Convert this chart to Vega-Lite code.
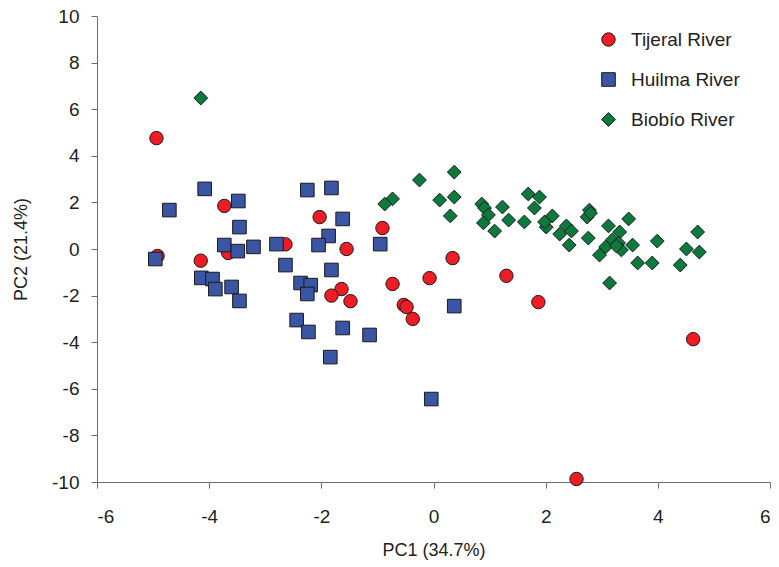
{
  "$schema": "https://vega.github.io/schema/vega-lite/v6.json",
  "width": 673,
  "height": 466,
  "autosize": {"type": "none"},
  "padding": {"left": 97, "top": 16, "right": 9, "bottom": 85},
  "background": "white",
  "config": {
    "view": {"stroke": null},
    "font": "Liberation Sans"
  },
  "datasets": {
    "pts": [
      {"river": "Tijeral River", "pc1": -4.94, "pc2": 4.76},
      {"river": "Tijeral River", "pc1": -4.92, "pc2": -0.30},
      {"river": "Tijeral River", "pc1": -4.15, "pc2": -0.50},
      {"river": "Tijeral River", "pc1": -3.73, "pc2": 1.85},
      {"river": "Tijeral River", "pc1": -3.66, "pc2": -0.17},
      {"river": "Tijeral River", "pc1": -2.64, "pc2": 0.20},
      {"river": "Tijeral River", "pc1": -2.03, "pc2": 1.37},
      {"river": "Tijeral River", "pc1": -1.55, "pc2": 0.00},
      {"river": "Tijeral River", "pc1": -0.91, "pc2": 0.90},
      {"river": "Tijeral River", "pc1": 0.34, "pc2": -0.39},
      {"river": "Tijeral River", "pc1": -0.07, "pc2": -1.25},
      {"river": "Tijeral River", "pc1": -0.73, "pc2": -1.50},
      {"river": "Tijeral River", "pc1": -1.64, "pc2": -1.72},
      {"river": "Tijeral River", "pc1": -1.82, "pc2": -2.00},
      {"river": "Tijeral River", "pc1": -1.48, "pc2": -2.24},
      {"river": "Tijeral River", "pc1": -0.53, "pc2": -2.40},
      {"river": "Tijeral River", "pc1": -0.48, "pc2": -2.49},
      {"river": "Tijeral River", "pc1": -0.37, "pc2": -3.00},
      {"river": "Tijeral River", "pc1": 1.30, "pc2": -1.15},
      {"river": "Tijeral River", "pc1": 1.87, "pc2": -2.28},
      {"river": "Tijeral River", "pc1": 4.63, "pc2": -3.87},
      {"river": "Tijeral River", "pc1": 2.55, "pc2": -9.87},
      {"river": "Huilma River", "pc1": -4.08, "pc2": 2.58},
      {"river": "Huilma River", "pc1": -4.71, "pc2": 1.67},
      {"river": "Huilma River", "pc1": -3.48, "pc2": 2.06},
      {"river": "Huilma River", "pc1": -3.46, "pc2": 0.94},
      {"river": "Huilma River", "pc1": -3.73, "pc2": 0.17},
      {"river": "Huilma River", "pc1": -3.49, "pc2": -0.09},
      {"river": "Huilma River", "pc1": -3.21, "pc2": 0.09},
      {"river": "Huilma River", "pc1": -2.80, "pc2": 0.21},
      {"river": "Huilma River", "pc1": -4.96, "pc2": -0.43},
      {"river": "Huilma River", "pc1": -4.14, "pc2": -1.24},
      {"river": "Huilma River", "pc1": -3.94, "pc2": -1.29},
      {"river": "Huilma River", "pc1": -3.89, "pc2": -1.72},
      {"river": "Huilma River", "pc1": -3.60, "pc2": -1.63},
      {"river": "Huilma River", "pc1": -3.46, "pc2": -2.23},
      {"river": "Huilma River", "pc1": -2.64, "pc2": -0.69},
      {"river": "Huilma River", "pc1": -2.25, "pc2": 2.53},
      {"river": "Huilma River", "pc1": -1.82, "pc2": 2.62},
      {"river": "Huilma River", "pc1": -1.62, "pc2": 1.29},
      {"river": "Huilma River", "pc1": -1.87, "pc2": 0.56},
      {"river": "Huilma River", "pc1": -2.05, "pc2": 0.17},
      {"river": "Huilma River", "pc1": -0.95, "pc2": 0.21},
      {"river": "Huilma River", "pc1": -1.82, "pc2": -0.90},
      {"river": "Huilma River", "pc1": -2.37, "pc2": -1.46},
      {"river": "Huilma River", "pc1": -2.19, "pc2": -1.55},
      {"river": "Huilma River", "pc1": -2.25, "pc2": -1.93},
      {"river": "Huilma River", "pc1": -2.44, "pc2": -3.05},
      {"river": "Huilma River", "pc1": -2.23, "pc2": -3.56},
      {"river": "Huilma River", "pc1": -1.62, "pc2": -3.39},
      {"river": "Huilma River", "pc1": -1.14, "pc2": -3.69},
      {"river": "Huilma River", "pc1": -1.84, "pc2": -4.64},
      {"river": "Huilma River", "pc1": 0.37, "pc2": -2.45},
      {"river": "Huilma River", "pc1": -0.04, "pc2": -6.44},
      {"river": "Biobío River", "pc1": -4.15, "pc2": 6.48},
      {"river": "Biobío River", "pc1": -0.25, "pc2": 2.96},
      {"river": "Biobío River", "pc1": 0.37, "pc2": 3.30},
      {"river": "Biobío River", "pc1": -0.73, "pc2": 2.15},
      {"river": "Biobío River", "pc1": -0.87, "pc2": 1.93},
      {"river": "Biobío River", "pc1": 0.11, "pc2": 2.10},
      {"river": "Biobío River", "pc1": 0.37, "pc2": 2.23},
      {"river": "Biobío River", "pc1": 0.30, "pc2": 1.42},
      {"river": "Biobío River", "pc1": 0.86, "pc2": 1.93},
      {"river": "Biobío River", "pc1": 0.91, "pc2": 1.76},
      {"river": "Biobío River", "pc1": 0.98, "pc2": 1.46},
      {"river": "Biobío River", "pc1": 0.89, "pc2": 1.12},
      {"river": "Biobío River", "pc1": 1.09, "pc2": 0.77},
      {"river": "Biobío River", "pc1": 1.23, "pc2": 1.80},
      {"river": "Biobío River", "pc1": 1.34, "pc2": 1.24},
      {"river": "Biobío River", "pc1": 1.62, "pc2": 1.16},
      {"river": "Biobío River", "pc1": 1.69, "pc2": 2.36},
      {"river": "Biobío River", "pc1": 1.89, "pc2": 2.23},
      {"river": "Biobío River", "pc1": 1.80, "pc2": 1.76},
      {"river": "Biobío River", "pc1": 2.12, "pc2": 1.42},
      {"river": "Biobío River", "pc1": 2.01, "pc2": 0.94},
      {"river": "Biobío River", "pc1": 1.98, "pc2": 1.16},
      {"river": "Biobío River", "pc1": 2.25, "pc2": 0.64},
      {"river": "Biobío River", "pc1": 2.37, "pc2": 0.99},
      {"river": "Biobío River", "pc1": 2.46, "pc2": 0.77},
      {"river": "Biobío River", "pc1": 2.42, "pc2": 0.17},
      {"river": "Biobío River", "pc1": 2.78, "pc2": 1.67},
      {"river": "Biobío River", "pc1": 2.74, "pc2": 1.37},
      {"river": "Biobío River", "pc1": 2.80, "pc2": 1.54},
      {"river": "Biobío River", "pc1": 2.76, "pc2": 0.47},
      {"river": "Biobío River", "pc1": 3.12, "pc2": 0.99},
      {"river": "Biobío River", "pc1": 3.48, "pc2": 1.29},
      {"river": "Biobío River", "pc1": 3.32, "pc2": 0.73},
      {"river": "Biobío River", "pc1": 3.07, "pc2": 0.09},
      {"river": "Biobío River", "pc1": 2.96, "pc2": -0.26},
      {"river": "Biobío River", "pc1": 3.19, "pc2": 0.39},
      {"river": "Biobío River", "pc1": 3.30, "pc2": 0.26},
      {"river": "Biobío River", "pc1": 3.35, "pc2": -0.04},
      {"river": "Biobío River", "pc1": 3.55, "pc2": 0.17},
      {"river": "Biobío River", "pc1": 3.26, "pc2": 0.13},
      {"river": "Biobío River", "pc1": 3.64, "pc2": -0.60},
      {"river": "Biobío River", "pc1": 3.90, "pc2": -0.60},
      {"river": "Biobío River", "pc1": 3.99, "pc2": 0.34},
      {"river": "Biobío River", "pc1": 3.14, "pc2": -1.46},
      {"river": "Biobío River", "pc1": 4.40, "pc2": -0.69},
      {"river": "Biobío River", "pc1": 4.51, "pc2": 0.00},
      {"river": "Biobío River", "pc1": 4.71, "pc2": 0.73},
      {"river": "Biobío River", "pc1": 4.74, "pc2": -0.13}
    ]
  },
  "data": {"name": "pts"},
  "mark": {"type": "point", "filled": true, "opacity": 1, "stroke": "#1a1a1a", "strokeWidth": 1},
  "encoding": {
    "x": {
      "field": "pc1", "type": "quantitative",
      "scale": {"domain": [-6, 6], "nice": false, "zero": false},
      "axis": {
        "title": "PC1 (34.7%)", "values": [-6, -4, -2, 0, 2, 4, 6], "grid": false,
        "labelExpr": "'' + datum.value",
        "domainColor": "#6e6e6e", "tickColor": "#6e6e6e", "tickSize": 6,
        "labelFontSize": 19, "labelColor": "#222", "labelPadding": 19, "labelFont": "Liberation Sans",
        "titleFontSize": 18, "titleFontWeight": "normal", "titleColor": "#222", "titlePadding": 15, "titleFont": "Liberation Sans"
      }
    },
    "y": {
      "field": "pc2", "type": "quantitative",
      "scale": {"domain": [-10, 10], "nice": false, "zero": false},
      "axis": {
        "title": "PC2 (21.4%)", "values": [-10, -8, -6, -4, -2, 0, 2, 4, 6, 8, 10], "grid": false,
        "labelExpr": "'' + datum.value",
        "domainColor": "#6e6e6e", "tickColor": "#6e6e6e", "tickSize": 6,
        "labelFontSize": 19, "labelColor": "#222", "labelPadding": 12, "labelFont": "Liberation Sans",
        "titleFontSize": 18, "titleFontWeight": "normal", "titleColor": "#222", "titlePadding": 21, "titleFont": "Liberation Sans"
      }
    },
    "color": {
      "field": "river", "type": "nominal",
      "scale": {"domain": ["Tijeral River", "Huilma River", "Biobío River"], "range": ["#ee1c25", "#3a55a4", "#0b7a3c"]},
      "legend": {
        "title": null, "orient": "none", "legendX": 502, "legendY": 14,
        "labelFontSize": 19, "labelColor": "#222", "labelFont": "Liberation Sans",
        "symbolSize": 150, "symbolStrokeWidth": 1, "symbolStrokeColor": "#1a1a1a",
        "labelOffset": 13, "rowPadding": 20
      }
    },
    "shape": {
      "field": "river", "type": "nominal",
      "scale": {"domain": ["Tijeral River", "Huilma River", "Biobío River"], "range": ["circle", "square", "diamond"]},
      "legend": null
    },
    "size": {
      "field": "river", "type": "nominal",
      "scale": {"domain": ["Tijeral River", "Huilma River", "Biobío River"], "range": [180, 190, 250]},
      "legend": null
    }
  }
}
